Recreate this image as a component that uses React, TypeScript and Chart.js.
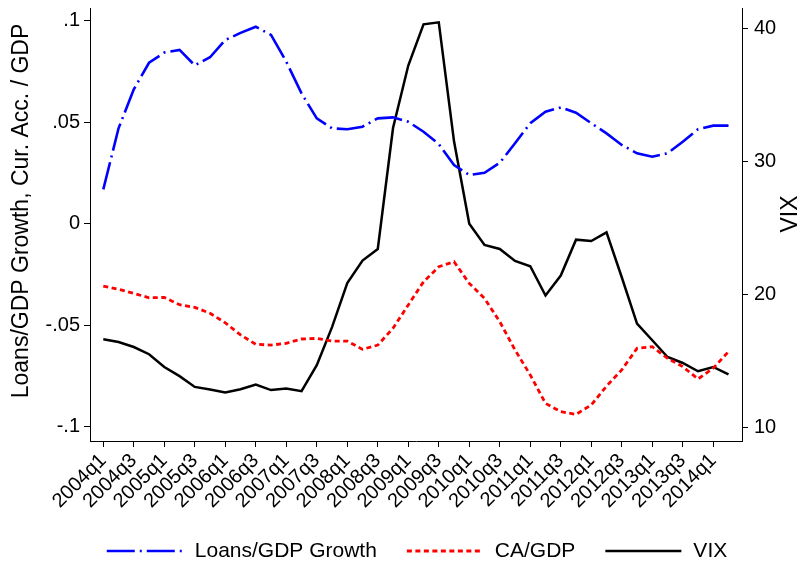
import React, { useEffect, useRef } from 'react';
import { Chart, registerables } from 'chart.js';

Chart.register(...registerables);

const FONT = "'Liberation Sans', Arial, Helvetica, sans-serif";

// Quarters shown (x positions are their indices)
const quarters = [
  '2004q1', '2004q2', '2004q3', '2004q4', '2005q1', '2005q2', '2005q3', '2005q4',
  '2006q1', '2006q2', '2006q3', '2006q4', '2007q1', '2007q2', '2007q3', '2007q4',
  '2008q1', '2008q2', '2008q3', '2008q4', '2009q1', '2009q2', '2009q3', '2009q4',
  '2010q1', '2010q2', '2010q3', '2010q4', '2011q1', '2011q2', '2011q3', '2011q4',
  '2012q1', '2012q2', '2012q3', '2012q4', '2013q1', '2013q2', '2013q3', '2013q4',
  '2014q1', '2014q2',
];

const xTickLabels = [
  '2004q1', '2004q3', '2005q1', '2005q3', '2006q1', '2006q3', '2007q1', '2007q3',
  '2008q1', '2008q3', '2009q1', '2009q3', '2010q1', '2010q3', '2011q1', '2011q3',
  '2012q1', '2012q3', '2013q1', '2013q3', '2014q1',
];

const loansGdpGrowth = [
  0.0169, 0.0470, 0.0662, 0.0793, 0.0843, 0.0856, 0.0780, 0.0820, 0.0905, 0.0940,
  0.0970, 0.0930, 0.0798, 0.0642, 0.0519, 0.0470, 0.0465, 0.0478, 0.0519, 0.0524,
  0.0502, 0.0453, 0.0392, 0.0289, 0.0240, 0.0251, 0.0300, 0.0396, 0.0495, 0.0552,
  0.0573, 0.0547, 0.0495, 0.0445, 0.0388, 0.0347, 0.0330, 0.0347, 0.0404, 0.0465,
  0.0483, 0.0483,
];

const caGdp = [
  -0.0307, -0.0323, -0.0343, -0.0365, -0.0363, -0.0399, -0.0412, -0.0441, -0.0488, -0.0548,
  -0.0594, -0.0598, -0.0589, -0.0568, -0.0565, -0.0578, -0.0578, -0.0619, -0.0598, -0.0515,
  -0.0400, -0.0286, -0.0212, -0.0187, -0.0294, -0.0368, -0.0483, -0.0622, -0.0745, -0.0885,
  -0.0926, -0.0939, -0.0893, -0.0800, -0.0720, -0.0614, -0.0606, -0.0663, -0.0704, -0.0765,
  -0.0712, -0.0630,
];

const vix = [
  16.6, 16.4, 16.02, 15.48, 14.52, 13.83, 13.02, 12.83, 12.6, 12.85,
  13.2, 12.78, 12.9, 12.7, 14.65, 17.52, 20.83, 22.53, 23.4, 32.5,
  37.2, 40.3, 40.45, 31.5, 25.3, 23.7, 23.4, 22.5, 22.1, 19.9,
  21.4, 24.1, 24.0, 24.65, 21.27, 17.78, 16.53, 15.27, 14.82, 14.2,
  14.52, 13.97,
];

const leftTickValues = [-0.1, -0.05, 0, 0.05, 0.1];
const leftTickLabels = ['-.1', '-.05', '0', '.05', '.1'];
const rightTickValues = [10, 20, 30, 40];
const rightTickLabels = ['10', '20', '30', '40'];

const leftTitle = 'Loans/GDP Growth, Cur. Acc. / GDP';
const rightTitle = 'VIX';

const overlayPlugin = {
  id: 'overlay',
  afterDraw(chart: any) {
    const ctx: CanvasRenderingContext2D = chart.ctx;
    ctx.save();
    ctx.fillStyle = '#000';
    ctx.textAlign = 'center';
    ctx.textBaseline = 'middle';
    ctx.font = `23px ${FONT}`;
    // left axis title
    ctx.save();
    ctx.translate(22, 211);
    ctx.rotate(-Math.PI / 2);
    ctx.fillText(leftTitle, 0, 0);
    ctx.restore();
    // right axis title
    ctx.save();
    ctx.translate(791, 214);
    ctx.rotate(-Math.PI / 2);
    ctx.fillText(rightTitle, 0, 0);
    ctx.restore();

    // legend
    const ds = chart.data.datasets;
    const sampleW = 76;
    const gapText = 12;
    const gapItem = 30;
    ctx.font = `21px ${FONT}`;
    const widths = ds.map((d: any) => ctx.measureText(d.label).width);
    let total = 0;
    widths.forEach((w: number, i: number) => {
      total += sampleW + gapText + w + (i < widths.length - 1 ? gapItem : 0);
    });
    const cx = (chart.chartArea.left + chart.chartArea.right) / 2 + 1;
    let x = cx - total / 2;
    const y = 551;
    ds.forEach((d: any, i: number) => {
      ctx.save();
      ctx.strokeStyle = d.borderColor;
      ctx.lineWidth = d.borderWidth;
      ctx.setLineDash(d.borderDash || []);
      ctx.beginPath();
      ctx.moveTo(x, y);
      ctx.lineTo(x + sampleW, y);
      ctx.stroke();
      ctx.restore();
      x += sampleW + gapText;
      ctx.textAlign = 'left';
      ctx.fillText(d.label, x, y);
      x += widths[i] + gapItem;
    });
    ctx.restore();
  },
};

export default function App() {
  const canvasRef = useRef<HTMLCanvasElement | null>(null);

  useEffect(() => {
    document.body.style.margin = '0';
    const canvas = canvasRef.current;
    if (!canvas) return;
    Chart.defaults.font.family = FONT;
    Chart.defaults.color = '#000';

    const toPoints = (arr: number[]) => arr.map((v, i) => ({ x: quarters.indexOf(quarters[i]), y: v }));

    const chart = new Chart(canvas, {
      type: 'line',
      data: {
        datasets: [
          {
            label: 'Loans/GDP Growth',
            data: toPoints(loansGdpGrowth),
            borderColor: '#0000ff',
            borderWidth: 2.6,
            borderDash: [28, 5, 2, 5],
            pointRadius: 0,
            yAxisID: 'yL',
            tension: 0,
          },
          {
            label: 'CA/GDP',
            data: toPoints(caGdp),
            borderColor: '#ff0000',
            borderWidth: 2.8,
            borderDash: [5, 3.5],
            pointRadius: 0,
            yAxisID: 'yL',
            tension: 0,
          },
          {
            label: 'VIX',
            data: toPoints(vix),
            borderColor: '#000000',
            borderWidth: 2.5,
            pointRadius: 0,
            yAxisID: 'yR',
            tension: 0,
          },
        ],
      },
      options: {
        responsive: false,
        animation: false,
        devicePixelRatio: 1,
        layout: { padding: { top: 8, left: 0, right: 0, bottom: 0 } },
        plugins: {
          legend: { display: false },
          tooltip: { enabled: false },
        },
        scales: {
          x: {
            type: 'linear',
            min: -0.872,
            max: 41.885,
            afterBuildTicks: (scale: any) => {
              scale.ticks = xTickLabels.map((_, i) => ({ value: quarters.indexOf(xTickLabels[i]) }));
            },
            afterFit: (scale: any) => {
              scale.height = 121;
              scale.paddingLeft = 0;
              scale.paddingRight = 0;
            },
            ticks: {
              autoSkip: false,
              minRotation: 45,
              maxRotation: 45,
              padding: 2,
              font: { size: 20 },
              color: '#000',
              callback: (v: any) => quarters[v as number] ?? '',
            },
            grid: { drawOnChartArea: false, color: '#000', tickLength: 6, tickWidth: 1 },
            border: { display: true, color: '#000', width: 1 },
          },
          yL: {
            type: 'linear',
            position: 'left',
            min: -0.10704,
            max: 0.10626,
            afterBuildTicks: (scale: any) => {
              scale.ticks = leftTickValues.map((v) => ({ value: v }));
            },
            afterFit: (scale: any) => {
              scale.width = 90;
              scale.paddingTop = 0;
              scale.paddingBottom = 0;
            },
            ticks: {
              padding: 4,
              font: { size: 20 },
              color: '#000',
              callback: (v: any) => {
                const idx = leftTickValues.findIndex((t) => Math.abs(t - v) < 1e-9);
                return idx >= 0 ? leftTickLabels[idx] : '';
              },
            },
            grid: { drawOnChartArea: false, color: '#000', tickLength: 6, tickWidth: 1 },
            border: { display: true, color: '#000', width: 1 },
          },
          yR: {
            type: 'linear',
            position: 'right',
            min: 8.95,
            max: 41.53,
            afterBuildTicks: (scale: any) => {
              scale.ticks = rightTickValues.map((v) => ({ value: v }));
            },
            afterFit: (scale: any) => {
              scale.width = 63;
              scale.paddingTop = 0;
              scale.paddingBottom = 0;
            },
            ticks: {
              padding: 6,
              font: { size: 20 },
              color: '#000',
              callback: (v: any) => {
                const idx = rightTickValues.indexOf(v);
                return idx >= 0 ? rightTickLabels[idx] : '';
              },
            },
            grid: { drawOnChartArea: false, color: '#000', tickLength: 6, tickWidth: 1 },
            border: { display: true, color: '#000', width: 1 },
          },
        },
      },
      plugins: [overlayPlugin],
    });

    return () => {
      chart.destroy();
    };
  }, []);

  return (
    <div style={{ width: 805, height: 562 }}>
      <canvas ref={canvasRef} width={805} height={562} style={{ display: 'block', width: 805, height: 562 }} />
    </div>
  );
}
